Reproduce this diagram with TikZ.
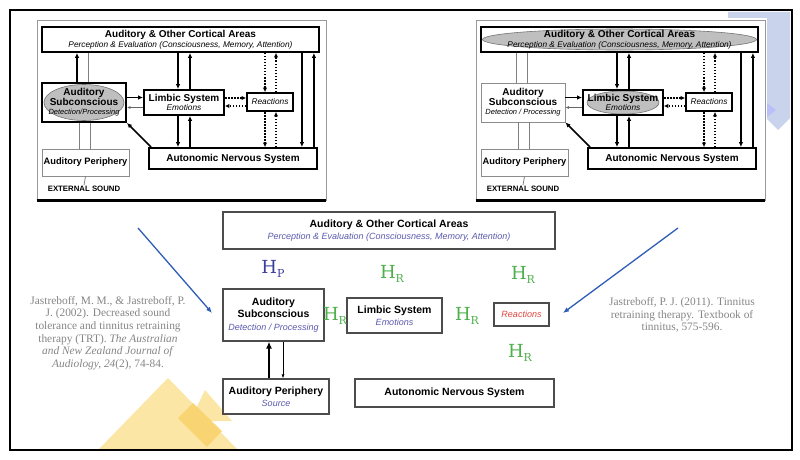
\documentclass[tikz,border=0pt]{standalone}
\usepackage{fontspec}
\setmainfont{Liberation Sans}
\newfontfamily\citefont{Liberation Serif}
\newfontfamily\hfont{DejaVu Serif}
\usepackage{xcolor}
\usepackage{tikz}
\usetikzlibrary{positioning,arrows.meta}

\definecolor{subblue}{HTML}{5A5AAE}
\definecolor{hpblue}{HTML}{3D3D9C}
\definecolor{hrgreen}{HTML}{4DAF4A}
\definecolor{reared}{HTML}{E0453F}
\definecolor{citegray}{HTML}{858585}
\definecolor{arrowblue}{HTML}{2E5DB5}
\definecolor{decoblue}{HTML}{C9D3EC}
\definecolor{decoyellow}{HTML}{FBE6A6}
\definecolor{decogold}{HTML}{F8D36A}

\tikzset{
    box/.style={draw=black!70, line width=1.1pt, fill=white, align=center, inner sep=1pt,
        font=\fontsize{10}{12.5}\selectfont},
    pbox/.style={draw=black, line width=1.8pt, fill=white, align=center, inner sep=0pt,
        font=\fontsize{8}{9.5}\selectfont},
    pgray/.style={draw=black!45, line width=0.8pt, fill=white, align=center, inner sep=0pt,
        font=\fontsize{8}{9.5}\selectfont},
    oval/.style 2 args={path picture={\filldraw[fill=black!25, draw=black!55, line width=0.6pt]
        (path picture bounding box.center) ellipse [x radius=#1, y radius=#2];}},
    parr/.style={line width=1.6pt, -{Latex[length=5pt,width=4.5pt]}},
    pthin/.style={draw=black!50, line width=0.8pt},
    pthinarr/.style={draw=black!60, line width=0.8pt, -{Latex[length=3.5pt,width=3pt]}},
    pdot/.style={line width=1.8pt, dash pattern=on 1.6pt off 1.4pt, -{Latex[length=4.5pt,width=4.5pt]}},
    hlabel/.style={inner sep=0pt, font=\hfont\fontsize{18}{18}\selectfont},
    cite/.style={align=center, text=citegray, inner sep=0pt, font=\citefont\fontsize{11.4}{12.7}\selectfont},
    barr/.style={draw=arrowblue, line width=1.3pt, -{Latex[length=6pt,width=5pt]}}
}

\newcommand\mtl[1]{{\fontsize{10.5}{12.5}\selectfont\bfseries #1}}
\newcommand\msb[1]{{\fontsize{9}{11}\selectfont\itshape\color{subblue}#1}}
\newcommand\ptl[1]{{\fontsize{10}{11}\selectfont\bfseries #1}}
\newcommand\psb[1]{{\fontsize{8.3}{9}\selectfont\itshape #1}}
\newcommand\hsub[2]{{\color{#1}H\raisebox{-4.5pt}{\fontsize{11}{11}\selectfont #2}}}

% one of the two small model pictures at the top
% #1 prefix, #2 x shift, #3 cortex style, #4 subconscious style, #5 limbic style,
% #6 subconscious->cortex style, #7 subconscious subtitle
\newcommand\oldpanel[7]{%
\begin{scope}[shift={(#2,0)}]
    \node[draw=black!40, line width=0.6pt, fill=white, minimum width=289pt, minimum height=180pt] (#1frame) at (181.5,110) {};
    \draw[line width=2.5pt] (#1frame.south west) -- (#1frame.south east);
    \node[pbox, #3, minimum width=277pt, minimum height=25pt] (#1cort) at (180.5,39.5)
        {\ptl{Auditory \& Other Cortical Areas}\\\psb{Perception \& Evaluation (Consciousness, Memory, Attention)}};
    \node[#4, minimum width=84pt, minimum height=39pt] (#1as) at (84,102.5)
        {\ptl{Auditory}\\\ptl{Subconscious}\\{\fontsize{7.5}{9}\selectfont\itshape #7}};
    \node[pbox, #5, minimum width=80pt, minimum height=25pt] (#1lim) at (184,102.5)
        {\ptl{Limbic System}\\\psb{Emotions}};
    \node[pbox, minimum width=46pt, minimum height=18pt] (#1rea) at (270,102) {\psb{Reactions}};
    \node[pbox, minimum width=168pt, minimum height=21pt] (#1ans) at (233,158.5) {\ptl{Autonomic Nervous System}};
    \node[pgray, minimum width=87pt, minimum height=27pt] (#1ap) at (85.5,162.5)
        {{\fontsize{9.3}{11}\selectfont\bfseries Auditory Periphery}};
    \node[inner sep=1pt, font=\fontsize{7.8}{9}\selectfont\bfseries] (#1ext) at (84,189) {EXTERNAL SOUND};

    % connectors
    \draw[#6] ([xshift=-7pt]#1as.north) -- ([xshift=-7pt]#1cort.south -| #1as.north);
    \draw[pthin] ([xshift=4pt]#1as.north) -- ([xshift=4pt]#1cort.south -| #1as.north);
    \draw[parr] ([xshift=-6pt]#1cort.south -| #1lim.north) -- ([xshift=-6pt]#1lim.north);
    \draw[parr] ([xshift=6pt]#1lim.north) -- ([xshift=6pt]#1cort.south -| #1lim.north);
    \draw[parr] ([xshift=-6pt]#1lim.south) -- ([xshift=-6pt]#1ans.north -| #1lim.south);
    \draw[parr] ([xshift=6pt]#1ans.north -| #1lim.south) -- ([xshift=6pt]#1lim.south);
    \draw[pdot] ([xshift=-5pt]#1cort.south -| #1rea.north) -- ([xshift=-5pt]#1rea.north);
    \draw[pdot] ([xshift=6pt]#1rea.north) -- ([xshift=6pt]#1cort.south -| #1rea.north);
    \draw[pdot] ([xshift=-5pt]#1rea.south) -- ([xshift=-5pt]#1ans.north -| #1rea.south);
    \draw[pdot] ([xshift=6pt]#1ans.north -| #1rea.south) -- ([xshift=6pt]#1rea.south);
    \draw[parr] ([xshift=-16pt]#1cort.south -| #1ans.north east) -- ([xshift=-16pt]#1ans.north east);
    \draw[parr] ([xshift=-4pt]#1ans.north east) -- ([xshift=-4pt]#1cort.south -| #1ans.north east);
    \draw[parr] ([yshift=5pt]#1as.east) -- ([yshift=5pt]#1as.east -| #1lim.west);
    \draw[pthinarr] ([yshift=-5pt]#1lim.west) -- ([yshift=-5pt]#1lim.west -| #1as.east);
    \draw[pdot] ([yshift=4.5pt]#1lim.east) -- ([yshift=4.5pt]#1lim.east -| #1rea.west);
    \draw[pdot] ([yshift=-4pt]#1rea.west) -- ([yshift=-4pt]#1rea.west -| #1lim.east);
    \draw[parr] ([xshift=3pt]#1ans.north west) -- (#1as.south east);
    \draw[pthin] ([xshift=-5pt]#1as.south) -- ([xshift=-5pt]#1ap.north -| #1as.south);
    \draw[pthin] ([xshift=6pt]#1as.south) -- ([xshift=6pt]#1ap.north -| #1as.south);
    \draw[pthin] (#1ap.south) -- (#1ext.north);
\end{scope}}

\begin{document}
\begin{tikzpicture}[x=1pt, y=-1pt]
    \useasboundingbox (0,0) rectangle (800,460);

    % slide decorations
    \fill[decoblue] (728,12) -- (790,12) -- (790,118) -- (778,130) -- (767,119) -- (767,18) -- (728,18) -- cycle;
    \fill[decoblue!70!blue!60] (767,103) -- (776,110) -- (767,117) -- cycle;
    \fill[decoyellow] (98,450) -- (168,378) -- (238,450) -- cycle;
    \fill[decoyellow] (205,390) -- (232,421) -- (190,421) -- cycle;
    \fill[decogold, opacity=0.85] (178,418) -- (193,403) -- (222,431) -- (207,447) -- cycle;
    \draw[line width=1.2pt] (10,10) rectangle (792,450);

    % the two source models
    \oldpanel{l}{0}{}{pbox, oval={40pt}{18pt}}{}{parr}{Detection/Processing}
    \oldpanel{r}{439}{oval={137pt}{10.5pt}}{pgray}{oval={36pt}{11.5pt}}{pthin}{Detection / Processing}

    % Nodes
    \node[box, minimum width=332pt, minimum height=37pt] (cort) at (389,230.5)
        {\mtl{Auditory \& Other Cortical Areas}\\\msb{Perception \& Evaluation (Consciousness, Memory, Attention)}};
    \node[box, minimum width=101pt, minimum height=52pt] (as) at (273.5,315)
        {\mtl{Auditory}\\\mtl{Subconscious}\\\msb{Detection / Processing}};
    \node[box, minimum width=95pt, minimum height=35pt] (lim) at (394.5,315.5)
        {\mtl{Limbic System}\\\msb{Emotions}};
    \node[box, minimum width=55pt, minimum height=23pt] (rea) at (521.5,314.5)
        {{\fontsize{9}{11}\selectfont\itshape\color{reared}Reactions}};
    \node[box, minimum width=106pt, minimum height=35pt] (ap) at (276,396.5)
        {\mtl{Auditory Periphery}\\\msb{Source}};
    \node[box, minimum width=199pt, minimum height=28pt] (ans) at (454.5,393)
        {\mtl{Autonomic Nervous System}};

    % H labels
    \node[hlabel] (hp) at (273,269) {\hsub{hpblue}{P}};
    \node[hlabel] (hr1) at (392,274) {\hsub{hrgreen}{R}};
    \node[hlabel] (hr2) at (523,275) {\hsub{hrgreen}{R}};
    \node[hlabel] (hr3) at (335,316) {\hsub{hrgreen}{R}};
    \node[hlabel] (hr4) at (467,316) {\hsub{hrgreen}{R}};
    \node[hlabel] (hr5) at (520,353) {\hsub{hrgreen}{R}};

    % references
    \node[cite] (citea) at (108,333) {Jastreboff, M. M., \& Jastreboff, P.\\J. (2002). Decreased sound\\tolerance and tinnitus retraining\\therapy (TRT). \textit{The Australian}\\\textit{and New Zealand Journal of}\\\textit{Audiology, 24}(2), 74-84.};
    \node[cite] (citeb) at (682,315) {Jastreboff, P. J. (2011). Tinnitus\\retraining therapy. Textbook of\\tinnitus, 575-596.};

    % Arrows
    \draw[line width=2.4pt, -{Latex[length=7pt,width=6pt]}] ([xshift=-7pt]ap.north) -- ([xshift=-7pt]ap.north |- as.south);
    \draw[line width=0.9pt, -{Latex[length=4pt,width=3pt]}] ([xshift=7pt]ap.north |- as.south) -- ([xshift=7pt]ap.north);
    \coordinate (lsrc) at (138,228);
    \coordinate (ltip) at (212,313);
    \coordinate (rsrc) at (678,228);
    \coordinate (rtip) at (563,313);
    \draw[barr] (lsrc) -- (ltip);
    \draw[barr] (rsrc) -- (rtip);
\end{tikzpicture}
\end{document}
